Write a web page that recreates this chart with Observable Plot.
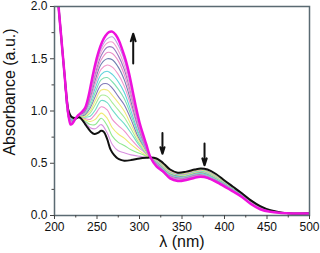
<!DOCTYPE html>
<html><head><meta charset="utf-8">
<script src="https://cdn.jsdelivr.net/npm/d3@7"></script>
<script src="https://cdn.jsdelivr.net/npm/@observablehq/plot@0.6"></script>
<style>body{margin:0;background:#fff}</style>
</head><body><div id="chart"></div>
<script>
const xTicks = [200, 250, 300, 350, 400, 450, 500];
const xMinor = [225, 275, 325, 375, 425, 475];
const yTicks = [0, 0.5, 1.0, 1.5, 2.0];
const yMinor = [0.25, 0.75, 1.25, 1.75];

const wlBlack = [200,204,208,212,216,218,220,222,225,229,233,236,239,243,247,251,255,258,262,266,270,274,278,282,290,300,310,313,320,325,330,336,345,355,365,372,380,390,400,410,420,431,442,454,466,480,500];
const absBlack = [2.60,2.08,1.70,1.33,1.02,0.97,0.945,0.935,0.93,0.94,0.91,0.875,0.84,0.80,0.78,0.79,0.81,0.80,0.73,0.63,0.58,0.548,0.532,0.525,0.53,0.545,0.553,0.555,0.545,0.52,0.485,0.44,0.41,0.42,0.44,0.45,0.44,0.397,0.335,0.275,0.215,0.145,0.09,0.05,0.03,0.02,0.02];

const wlMagenta = [200,204,208,212,215,217,219,221,224,228,232,236,240,244,248,252,256,260,264,268,272,276,280,284,288,292,296,300,304,308,313,320,328,336,345,355,365,372,380,395,410,420,431,442,454,466,480,500];
const absMagenta = [2.60,2.08,1.70,1.33,1.06,0.93,0.87,0.88,0.92,0.96,0.99,1.03,1.14,1.30,1.45,1.57,1.66,1.72,1.755,1.76,1.73,1.67,1.58,1.48,1.35,1.19,1.03,0.89,0.78,0.68,0.555,0.47,0.42,0.355,0.33,0.34,0.362,0.37,0.36,0.30,0.23,0.18,0.11,0.06,0.035,0.025,0.02,0.02];

const wlMid = [212,218,222,228,235,242,248,255,262,268,275,282,290,298,305,313,322,335,350,372,395,420,445,470,500];
const midSpectra = [
 [1.33,0.97,0.93,0.94,0.90,0.84,0.83,0.87,0.79,0.68,0.62,0.60,0.58,0.57,0.56,0.555,0.53,0.44,0.405,0.444,0.356,0.217,0.074,0.025,0.02],
 [1.33,0.97,0.93,0.94,0.91,0.87,0.87,0.93,0.86,0.76,0.70,0.67,0.63,0.60,0.58,0.555,0.525,0.433,0.40,0.439,0.352,0.214,0.072,0.025,0.02],
 [1.33,0.96,0.93,0.94,0.92,0.90,0.92,0.98,0.93,0.84,0.78,0.74,0.68,0.63,0.59,0.555,0.52,0.427,0.394,0.433,0.347,0.212,0.071,0.024,0.02],
 [1.33,0.96,0.92,0.95,0.93,0.92,0.97,1.04,1.01,0.92,0.86,0.81,0.73,0.66,0.61,0.555,0.514,0.421,0.389,0.428,0.343,0.209,0.069,0.024,0.02],
 [1.33,0.95,0.92,0.95,0.94,0.95,1.01,1.10,1.08,1.01,0.94,0.88,0.79,0.69,0.62,0.555,0.509,0.415,0.384,0.422,0.339,0.206,0.068,0.024,0.02],
 [1.33,0.95,0.92,0.95,0.94,0.98,1.06,1.15,1.14,1.08,1.01,0.94,0.83,0.71,0.63,0.555,0.504,0.41,0.379,0.417,0.335,0.204,0.067,0.024,0.02],
 [1.33,0.94,0.91,0.95,0.95,1.00,1.10,1.20,1.20,1.15,1.08,1.00,0.87,0.74,0.64,0.555,0.50,0.405,0.375,0.412,0.332,0.201,0.066,0.024,0.02],
 [1.33,0.94,0.91,0.95,0.96,1.03,1.14,1.25,1.26,1.22,1.14,1.06,0.92,0.76,0.66,0.555,0.495,0.40,0.37,0.408,0.328,0.199,0.064,0.023,0.02],
 [1.33,0.93,0.91,0.95,0.97,1.05,1.18,1.30,1.32,1.28,1.21,1.12,0.96,0.79,0.67,0.555,0.491,0.395,0.366,0.403,0.325,0.196,0.063,0.023,0.02],
 [1.33,0.93,0.91,0.95,0.98,1.08,1.22,1.35,1.38,1.35,1.28,1.18,1.00,0.81,0.68,0.555,0.486,0.39,0.361,0.398,0.321,0.194,0.062,0.023,0.02],
 [1.33,0.92,0.90,0.95,0.98,1.10,1.26,1.40,1.44,1.42,1.35,1.24,1.05,0.84,0.69,0.555,0.482,0.385,0.357,0.393,0.317,0.192,0.061,0.023,0.02],
 [1.33,0.92,0.90,0.96,0.99,1.13,1.30,1.45,1.50,1.49,1.42,1.30,1.09,0.86,0.70,0.555,0.477,0.38,0.352,0.388,0.314,0.189,0.06,0.023,0.02],
 [1.33,0.91,0.90,0.96,1.00,1.15,1.33,1.49,1.56,1.55,1.48,1.35,1.13,0.88,0.71,0.555,0.473,0.375,0.348,0.384,0.311,0.187,0.059,0.023,0.02],
 [1.33,0.91,0.90,0.96,1.00,1.17,1.36,1.53,1.61,1.61,1.53,1.40,1.17,0.91,0.72,0.555,0.47,0.371,0.345,0.38,0.308,0.185,0.058,0.022,0.02],
 [1.33,0.91,0.89,0.96,1.01,1.18,1.39,1.57,1.65,1.66,1.58,1.44,1.19,0.92,0.73,0.555,0.467,0.368,0.342,0.377,0.305,0.184,0.057,0.022,0.02],
 [1.33,0.90,0.89,0.96,1.01,1.20,1.42,1.60,1.69,1.71,1.63,1.49,1.23,0.94,0.74,0.555,0.463,0.364,0.338,0.374,0.303,0.182,0.056,0.022,0.02]
];
const midColors = ["#d890e0","#90e890","#eeea70","#ee90cc","#70dcc8","#a8ec98","#f2e880","#8078b8","#80e0b0","#60d4dc","#f098cc","#7080b0","#ea90c8","#9878c0","#f0a0d0","#b8a0e0"];

const arrowX = [292.6, 327, 376.5];
const arrowFrom = [1.455, 0.79, 0.69];
const arrowTo = [1.74, 0.59, 0.48];

const toPts = (xs, ys) => ys.map((v, i) => ({x: xs[i], y: v}));

const midMarks = midSpectra.map((vals, i) =>
  Plot.line(toPts(wlMid, vals), {x: "x", y: "y", stroke: midColors[i], strokeWidth: 1.1, curve: "catmull-rom", clip: true})
);

const arrows = arrowX.map((x, i) => ({x, y1: arrowFrom[i], y2: arrowTo[i]}));

const chart = Plot.plot({
  width: 320, height: 253,
  marginLeft: 54, marginRight: 11, marginTop: 6, marginBottom: 38,
  x: {domain: [200, 500]},
  y: {domain: [0, 2]},
  style: {fontFamily: "'Liberation Sans', Arial, sans-serif", fontSize: "12px", color: "#111", background: "white"},
  marks: [
    ...midMarks,
    Plot.line(toPts(wlBlack, absBlack), {x: "x", y: "y", stroke: "#111", strokeWidth: 2, curve: "catmull-rom", clip: true}),
    Plot.line(toPts(wlMagenta, absMagenta), {x: "x", y: "y", stroke: "#ee11dd", strokeWidth: 2.5, curve: "catmull-rom", clip: true}),
    Plot.arrow(arrows, {x: "x", y1: "y1", y2: "y2", stroke: "#111", strokeWidth: 2, headLength: 6, headAngle: 35}),
    Plot.frame({stroke: "#5a6a72", strokeWidth: 1.5}),
    Plot.axisX({ticks: xTicks, tickSize: 4, tickPadding: 3, tickFormat: d => d, label: null, stroke: "#444"}),
    Plot.axisX({ticks: xMinor, tickSize: 2.5, tickFormat: () => "", label: null, stroke: "#444"}),
    Plot.axisY({ticks: yTicks, tickSize: 4, tickPadding: 3, tickFormat: ".1f", label: null, stroke: "#444"}),
    Plot.axisY({ticks: yMinor, tickSize: 2.5, tickFormat: () => "", label: null, stroke: "#444"}),
    Plot.text(["Absorbance (a.u.)"], {text: d => d, frameAnchor: "left", textAnchor: "middle", rotate: -90, dx: -45, dy: -19, fontSize: 16, fill: "#111"}),
    Plot.text(["λ (nm)"], {text: d => d, frameAnchor: "bottom", lineAnchor: "middle", dy: 26, fontSize: 16, fill: "#111"})
  ]
});
document.getElementById("chart").appendChild(chart);
</script>
</body></html>
